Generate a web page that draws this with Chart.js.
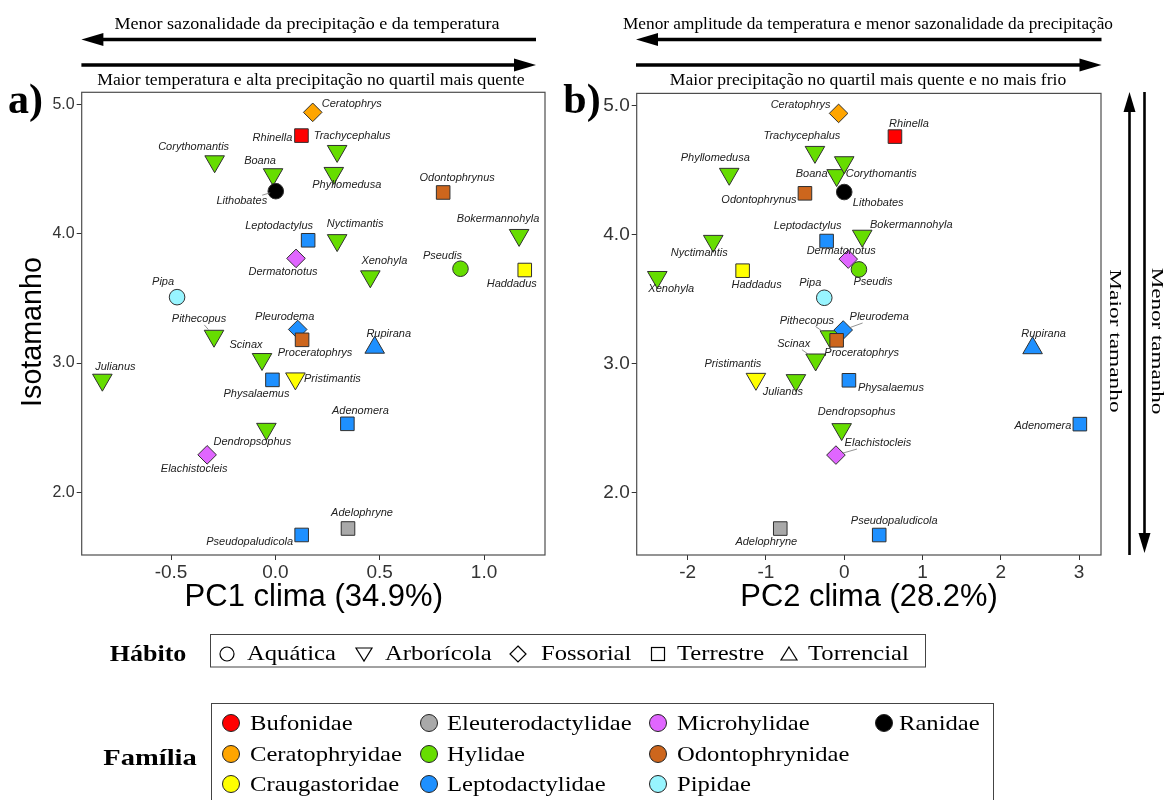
<!DOCTYPE html>
<html>
<head>
<meta charset="utf-8">
<script src="https://cdn.jsdelivr.net/npm/chart.js@4.4.0/dist/chart.umd.min.js"></script>
<style>
  html, body { margin: 0; padding: 0; background: #fff; }
  #page { position: relative; width: 1167px; height: 800px; overflow: hidden; background: #fff; }
  #page canvas { position: absolute; }
  #overlay { position: absolute; left: 0; top: 0; pointer-events: none; }
</style>
</head>
<body>
<div id="page">
  <canvas id="chartA" width="560" height="510" style="left:0;top:80px"></canvas>
  <canvas id="chartB" width="560" height="510" style="left:560px;top:80px"></canvas>
</div>
<script>
// ---- data ----
const genus = ['Adelophryne','Adenomera','Boana','Bokermannohyla','Ceratophrys','Corythomantis',
  'Dendropsophus','Dermatonotus','Elachistocleis','Haddadus','Julianus','Leptodactylus','Lithobates',
  'Nyctimantis','Odontophrynus','Phyllomedusa','Physalaemus','Pipa','Pithecopus','Pleurodema',
  'Pristimantis','Proceratophrys','Pseudis','Pseudopaludicola','Rhinella','Rupirana','Scinax',
  'Trachycephalus','Xenohyla'];
const family = ['Eleuterodactylidae','Leptodactylidae','Hylidae','Hylidae','Ceratophryidae','Hylidae',
  'Hylidae','Microhylidae','Microhylidae','Craugastoridae','Hylidae','Leptodactylidae','Ranidae',
  'Hylidae','Odontophrynidae','Hylidae','Leptodactylidae','Pipidae','Hylidae','Leptodactylidae',
  'Craugastoridae','Odontophrynidae','Hylidae','Leptodactylidae','Bufonidae','Leptodactylidae','Hylidae',
  'Hylidae','Hylidae'];
const habit = ['Terrestre','Terrestre','Arborícola','Arborícola','Fossorial','Arborícola',
  'Arborícola','Fossorial','Fossorial','Terrestre','Arborícola','Terrestre','Aquática',
  'Arborícola','Terrestre','Arborícola','Terrestre','Aquática','Arborícola','Fossorial',
  'Arborícola','Terrestre','Aquática','Terrestre','Terrestre','Torrencial','Arborícola',
  'Arborícola','Arborícola'];
const isotamanho = [1.72, 2.53, 4.46, 3.99, 4.94, 4.56,
  2.49, 3.81, 2.29, 3.72, 2.87, 3.95, 4.33,
  3.95, 4.32, 4.47, 2.87, 3.51, 3.21, 3.26,
  2.88, 3.18, 3.73, 1.67, 4.76, 3.12, 3.03,
  4.64, 3.67];
const pc1 = [0.348, 0.345, -0.011, 1.168, 0.179, -0.291,
  -0.043, 0.099, -0.327, 1.195, -0.829, 0.157, 0.002,
  0.296, 0.804, 0.280, -0.014, -0.471, -0.294, 0.107,
  0.096, 0.128, 0.887, 0.126, 0.125, 0.476, -0.064,
  0.296, 0.455];
const pc2 = [-0.817, 3.010, -0.097, 0.230, -0.072, 0.000,
  -0.033, 0.051, -0.106, -1.298, -0.617, -0.225, 0.000,
  -1.673, -0.502, -1.469, 0.060, -0.255, -0.183, -0.013,
  -1.128, -0.097, 0.188, 0.447, 0.648, 2.406, -0.365,
  -0.374, -2.388];

const xTicksPC1 = [-0.5, 0.0, 0.5, 1.0];
const xTicksPC2 = [-2, -1, 0, 1, 2, 3];
const yTicks = [2.0, 3.0, 4.0, 5.0];
const familyNames = ['Bufonidae','Ceratophryidae','Craugastoridae','Eleuterodactylidae','Hylidae',
  'Leptodactylidae','Microhylidae','Odontophrynidae','Pipidae','Ranidae'];
const habitNames = ['Aquática','Arborícola','Fossorial','Terrestre','Torrencial'];

// ---- styles ----
const familyColor = {
  Bufonidae: '#FF0000', Ceratophryidae: '#FFA500', Craugastoridae: '#FFFF00',
  Eleuterodactylidae: '#A9A9A9', Hylidae: '#66DD00', Leptodactylidae: '#1E90FF',
  Microhylidae: '#E066FF', Odontophrynidae: '#CD661D', Pipidae: '#98F5FF', Ranidae: '#000000'
};
const habitMarker = {
  'Aquática':   { style: 'circle',   radius: 7.8,  rotation: 0 },
  'Arborícola': { style: 'triangle', radius: 11.3, rotation: 180 },
  'Fossorial':  { style: 'rectRot',  radius: 9.3,  rotation: 0 },
  'Terrestre':  { style: 'rect',     radius: 9.6,  rotation: 0 },
  'Torrencial': { style: 'triangle', radius: 11.3, rotation: 0 }
};

// label placement (pixel offsets from each marker) for the two panels
const labelOffsetA = {
  Ceratophrys:[39,-8], Rhinella:[-29,2], Trachycephalus:[15,-15], Corythomantis:[-21,-15],
  Boana:[-13,-13], Phyllomedusa:[13,12], Lithobates:[-34,10], Odontophrynus:[14,-15],
  Leptodactylus:[-29,-14], Nyctimantis:[18,-16], Bokermannohyla:[-21,-16], Dermatonotus:[-13,14],
  Xenohyla:[14,-16], Pseudis:[-18,-13], Haddadus:[-13,14], Pipa:[-14,-15], Pithecopus:[-15,-17],
  Pleurodema:[-13,-13], Proceratophrys:[13,13], Rupirana:[14,-14], Scinax:[-16,-14],
  Julianus:[13,-13], Physalaemus:[-16,14], Pristimantis:[37,0], Adenomera:[13,-13],
  Dendropsophus:[-14,13], Elachistocleis:[-13,14], Adelophryne:[14,-16], Pseudopaludicola:[-52,7]
};
const labelOffsetB = {
  Ceratophrys:[-38,-8], Rhinella:[14,-13], Trachycephalus:[-13,-16], Phyllomedusa:[-14,-16],
  Boana:[-25,-1], Corythomantis:[37,12], Odontophrynus:[-46,7], Lithobates:[34,11],
  Leptodactylus:[-19,-15], Bokermannohyla:[49,-11], Nyctimantis:[-14,12], Dermatonotus:[-7,-8],
  Haddadus:[14,14], Xenohyla:[14,12], Pseudis:[14,13], Pipa:[-14,-15], Pithecopus:[-23,-16],
  Pleurodema:[36,-13], Scinax:[-22,-16], Proceratophrys:[25,13], Rupirana:[11,-14],
  Pristimantis:[-23,-15], Julianus:[-13,12], Physalaemus:[42,8], Dendropsophus:[15,-17],
  Elachistocleis:[42,-12], Adenomera:[-37,2], Adelophryne:[-14,13], Pseudopaludicola:[15,-14]
};
const leadersA = ['Lithobates', 'Pithecopus'];
const leadersB = ['Pithecopus', 'Scinax', 'Pleurodema', 'Elachistocleis'];

// ---- plugins ----
const panelFrame = {
  id: 'panelFrame',
  afterDraw(chart) {
    const { ctx, chartArea: a } = chart;
    ctx.save();
    ctx.strokeStyle = '#4d4d4d';
    ctx.lineWidth = 1.2;
    ctx.strokeRect(a.left, a.top, a.right - a.left, a.bottom - a.top);
    ctx.restore();
  }
};

const genusLabels = {
  id: 'genusLabels',
  afterDatasetsDraw(chart, args, opts) {
    const ctx = chart.ctx;
    const pts = chart.getDatasetMeta(0).data;
    ctx.save();
    ctx.font = 'italic 11px "Liberation Sans", Arial, sans-serif';
    ctx.textAlign = 'center';
    ctx.textBaseline = 'middle';
    genus.forEach((g, i) => {
      const p = pts[i];
      const off = opts.offsets[g] || [0, -14];
      const lx = p.x + off[0], ly = p.y + off[1];
      if (opts.leaders.includes(g)) {
        const hw = ctx.measureText(g).width / 2 + 1, hh = 6;
        const vx = p.x - lx, vy = p.y - ly;
        const t = Math.min(vx ? hw / Math.abs(vx) : 1e9, vy ? hh / Math.abs(vy) : 1e9);
        const sx = lx + vx * t, sy = ly + vy * t;
        const len = Math.hypot(vx, vy);
        const r = habitMarker[habit[i]].radius * 0.75;
        const ex = p.x - vx / len * r, ey = p.y - vy / len * r;
        if (Math.hypot(ex - sx, ey - sy) > 1.5 && t < 1) {
          ctx.strokeStyle = '#777';
          ctx.lineWidth = 0.8;
          ctx.beginPath();
          ctx.moveTo(sx, sy);
          ctx.lineTo(ex, ey);
          ctx.stroke();
        }
      }
      ctx.fillStyle = '#222';
      ctx.fillText(g, lx, ly);
    });
    ctx.restore();
  }
};

function makePanel(canvasId, xValues, xRange, xTicks, xFmt, yAxisWidth, yTickSize, rightPad, offsets, leaders) {
  const data = genus.map((g, i) => ({ x: xValues[i], y: isotamanho[i] }));
  return new Chart(document.getElementById(canvasId), {
    type: 'scatter',
    data: {
      datasets: [{
        data,
        pointStyle: habit.map(h => habitMarker[h].style),
        pointRadius: habit.map(h => habitMarker[h].radius),
        pointRotation: habit.map(h => habitMarker[h].rotation),
        pointBackgroundColor: family.map(f => familyColor[f]),
        pointBorderColor: '#303030',
        pointBorderWidth: 1
      }]
    },
    options: {
      responsive: false,
      animation: false,
      events: [],
      layout: { padding: { left: 0, top: 11.5, right: rightPad, bottom: 0 } },
      plugins: {
        legend: { display: false },
        tooltip: { enabled: false },
        genusLabels: { offsets, leaders }
      },
      scales: {
        x: {
          type: 'linear', position: 'bottom',
          min: xRange[0], max: xRange[1],
          afterBuildTicks: s => { s.ticks = xTicks.map(v => ({ value: v })); },
          afterFit: s => { s.height = 35; },
          ticks: {
            font: { family: '"Liberation Sans", Arial, sans-serif', size: 19 },
            color: '#333', padding: 1, maxRotation: 0,
            callback: v => xFmt(v)
          },
          grid: { display: true, drawOnChartArea: false, drawTicks: true, tickLength: 5, color: '#333', lineWidth: 1 },
          border: { display: false }
        },
        y: {
          type: 'linear', position: 'left',
          min: 1.515, max: 5.095,
          afterBuildTicks: s => { s.ticks = yTicks.map(v => ({ value: v })); },
          afterFit: s => { s.width = yAxisWidth; },
          ticks: {
            font: { family: '"Liberation Sans", Arial, sans-serif', size: yTickSize },
            color: '#333', padding: 2,
            callback: v => v.toFixed(1)
          },
          grid: { display: true, drawOnChartArea: false, drawTicks: true, tickLength: 5, color: '#333', lineWidth: 1 },
          border: { display: false }
        }
      }
    },
    plugins: [panelFrame, genusLabels]
  });
}

makePanel('chartA', pc1, [-0.928, 1.292], xTicksPC1, v => v.toFixed(1), 81.7, 16, 15, labelOffsetA, leadersA);
makePanel('chartB', pc2, [-2.651, 3.28], xTicksPC2, v => String(v), 76.7, 19, 19, labelOffsetB, leadersB);

// ---- surrounding text, arrows and legends ----
const page = document.getElementById('page');
const SERIF = '"Liberation Serif", "Times New Roman", serif';
const SANS = '"Liberation Sans", Arial, sans-serif';

function putText(str, o) {
  const el = document.createElement('div');
  el.textContent = str;
  el.style.position = 'absolute';
  el.style.whiteSpace = 'nowrap';
  el.style.font = o.font;
  el.style.lineHeight = '1';
  el.style.color = o.color || '#000';
  el.style.left = o.x + 'px';
  el.style.top = o.y + 'px';
  el.style.zIndex = 3;
  page.appendChild(el);
  const w = el.offsetWidth;
  const sx = o.fit ? o.fit / w : (o.sx || 1);
  if (o.align === 'left') {
    el.style.transformOrigin = '0 50%';
    el.style.transform = `translateY(-50%) scaleX(${sx})`;
  } else {
    el.style.transform = `translate(-50%,-50%) rotate(${o.rot || 0}deg) scaleX(${sx})`;
  }
  return el;
}

// panel tags
putText('a)', { font: `bold 42px ${SERIF}`, x: 25.5, y: 99, fit: 35 });
putText('b)', { font: `bold 42px ${SERIF}`, x: 582, y: 99, fit: 37 });

// axis titles
putText('Isotamanho', { font: `30px ${SANS}`, x: 30.5, y: 332, rot: -90, fit: 150 });
putText('PC1 clima (34.9%)', { font: `31px ${SANS}`, x: 313.8, y: 595, fit: 258 });
putText('PC2 clima (28.2%)', { font: `31px ${SANS}`, x: 869, y: 595, fit: 257 });

// gradient descriptions above each panel
putText('Menor sazonalidade da precipitação e da temperatura', { font: `16px ${SERIF}`, x: 307, y: 23.5, fit: 385 });
putText('Maior temperatura e alta precipitação no quartil mais quente', { font: `16px ${SERIF}`, x: 311, y: 80, fit: 428 });
putText('Menor amplitude da temperatura e menor sazonalidade da precipitação', { font: `16px ${SERIF}`, x: 868, y: 23.5, fit: 490 });
putText('Maior precipitação no quartil mais quente e no mais frio', { font: `16px ${SERIF}`, x: 868, y: 80, fit: 396 });

// size gradient on the right
putText('Maior tamanho', { font: `16px ${SERIF}`, x: 1115, y: 341, rot: 90, fit: 143 });
putText('Menor tamanho', { font: `16px ${SERIF}`, x: 1157, y: 341, rot: 90, fit: 147 });

// arrows
function hArrow(x1, x2, y, pointLeft) {
  const len = 22, hw = 6.5;
  if (pointLeft) {
    return `<line x1="${x1 + len - 2}" y1="${y}" x2="${x2}" y2="${y}" stroke="#000" stroke-width="3.5"/>` +
      `<polygon points="${x1},${y} ${x1 + len},${y - hw} ${x1 + len},${y + hw}" fill="#000"/>`;
  }
  return `<line x1="${x1}" y1="${y}" x2="${x2 - len + 2}" y2="${y}" stroke="#000" stroke-width="3.5"/>` +
    `<polygon points="${x2},${y} ${x2 - len},${y - hw} ${x2 - len},${y + hw}" fill="#000"/>`;
}
function vArrow(x, y1, y2, pointUp) {
  const len = 20, hw = 6;
  if (pointUp) {
    return `<line x1="${x}" y1="${y1 + len - 2}" x2="${x}" y2="${y2}" stroke="#000" stroke-width="2.6"/>` +
      `<polygon points="${x},${y1} ${x - hw},${y1 + len} ${x + hw},${y1 + len}" fill="#000"/>`;
  }
  return `<line x1="${x}" y1="${y1}" x2="${x}" y2="${y2 - len + 2}" stroke="#000" stroke-width="2.6"/>` +
    `<polygon points="${x},${y2} ${x - hw},${y2 - len} ${x + hw},${y2 - len}" fill="#000"/>`;
}

let svg = '';
svg += hArrow(81.4, 536, 39.5, true);
svg += hArrow(81.4, 536, 65, false);
svg += hArrow(636, 1101.5, 39.5, true);
svg += hArrow(636, 1101.5, 65, false);
svg += vArrow(1129.5, 92, 555, true);
svg += vArrow(1144.5, 92, 553, false);

// legend boxes
svg += `<rect x="210.5" y="634.5" width="715" height="32.5" fill="none" stroke="#444" stroke-width="1"/>`;
svg += `<rect x="211.5" y="703.5" width="782" height="120" fill="none" stroke="#444" stroke-width="1"/>`;

// habit legend symbols (open shapes)
const habitLegendX = [227, 364, 518, 658, 789];
const habitTextX = [247, 385, 541, 677, 808];
const hy = 654;
const st = 'fill="none" stroke="#000" stroke-width="1.2"';
habitNames.forEach((h, i) => {
  const cx = habitLegendX[i];
  const kind = habitMarker[h];
  if (kind.style === 'circle') svg += `<circle cx="${cx}" cy="${hy}" r="7" ${st}/>`;
  else if (kind.style === 'rect') svg += `<rect x="${cx - 6.5}" y="${hy - 6.5}" width="13" height="13" ${st}/>`;
  else if (kind.style === 'rectRot') svg += `<polygon points="${cx},${hy - 8} ${cx + 8},${hy} ${cx},${hy + 8} ${cx - 8},${hy}" ${st}/>`;
  else if (kind.rotation === 180) svg += `<polygon points="${cx - 8},${hy - 6} ${cx + 8},${hy - 6} ${cx},${hy + 7}" ${st}/>`;
  else svg += `<polygon points="${cx},${hy - 7} ${cx + 8},${hy + 6} ${cx - 8},${hy + 6}" ${st}/>`;
  putText(h, { font: `22px ${SERIF}`, x: habitTextX[i], y: 653, align: 'left', sx: 1.12 });
});

// family legend (3 rows per column)
const famColX = [231, 429, 658, 884];
const famTextX = [250, 447, 677, 899];
const famRowY = [723, 754, 784];
familyNames.forEach((f, i) => {
  const c = Math.floor(i / 3), r = i % 3;
  svg += `<circle cx="${famColX[c]}" cy="${famRowY[r]}" r="8.5" fill="${familyColor[f]}" stroke="#222" stroke-width="1"/>`;
  putText(f, { font: `22px ${SERIF}`, x: famTextX[c], y: famRowY[r], align: 'left', sx: 1.12 });
});

putText('Hábito', { font: `bold 24px ${SERIF}`, x: 147.5, y: 653, fit: 77 });
putText('Família', { font: `bold 24px ${SERIF}`, x: 149.5, y: 757, fit: 94 });

const overlay = document.createElementNS('http://www.w3.org/2000/svg', 'svg');
overlay.setAttribute('id', 'overlay');
overlay.setAttribute('width', '1167');
overlay.setAttribute('height', '800');
overlay.style.zIndex = 2;
overlay.innerHTML = svg;
page.appendChild(overlay);
</script>
</body>
</html>
